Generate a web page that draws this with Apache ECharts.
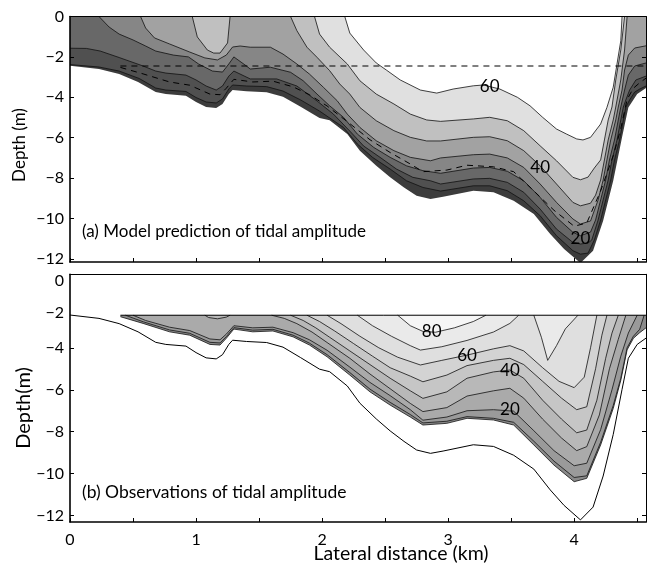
<!DOCTYPE html>
<html>
<head>
<meta charset="utf-8">
<script src="https://cdn.jsdelivr.net/npm/echarts@6/dist/echarts.min.js"></script>
<style>
html,body{margin:0;padding:0;background:#fff}
#chart{width:650px;height:563px}
</style>
</head>
<body>
<div id="chart"></div>
<script>
// Lateral extent of the section (km)
const xMax = 4.57;

// Bed profile: [lateral distance km, depth m]
const bedProfile = [[0,-2.44],[0.23,-2.60],[0.39,-2.85],[0.54,-3.24],[0.68,-3.74],[0.76,-3.84],[0.92,-3.92],[1.0,-4.23],[1.08,-4.48],[1.16,-4.53],[1.21,-4.33],[1.26,-3.84],[1.29,-3.64],[1.40,-3.70],[1.56,-3.75],[1.69,-3.97],[1.83,-4.47],[1.98,-5.02],[2.06,-5.14],[2.20,-5.82],[2.30,-6.64],[2.43,-7.39],[2.54,-7.96],[2.65,-8.46],[2.75,-8.87],[2.86,-9.03],[2.96,-8.92],[3.20,-8.62],[3.36,-8.70],[3.52,-9.12],[3.68,-9.78],[3.81,-10.77],[3.92,-11.51],[4.05,-12.2],[4.15,-11.59],[4.23,-10.11],[4.31,-8.13],[4.38,-5.98],[4.43,-4.50],[4.50,-3.84],[4.57,-3.54]];

// Model amplitude contours (cm), each a line from left to right
const modelLevels = [0, 10, 20, 30, 40, 50, 60];
const modelC1 = [[0,-2.38],[0.23,-2.50],[0.39,-2.70],[0.55,-3.07],[0.68,-3.54],[0.76,-3.64],[0.92,-3.71],[1.0,-4.01],[1.08,-4.23],[1.16,-4.28],[1.21,-4.08],[1.26,-3.59],[1.29,-3.39],[1.40,-3.44],[1.56,-3.47],[1.69,-3.69],[1.83,-4.13],[1.98,-4.68],[2.17,-5.49],[2.28,-6.31],[2.40,-6.97],[2.54,-7.55],[2.67,-8.13],[2.80,-8.46],[2.94,-8.64],[3.20,-8.38],[3.33,-8.38],[3.47,-8.62],[3.60,-9.12],[3.73,-9.86],[3.86,-10.85],[3.99,-11.59],[4.05,-11.76],[4.11,-11.71],[4.16,-11.06],[4.21,-10.07],[4.25,-9.08],[4.29,-8.09],[4.32,-7.10],[4.36,-6.11],[4.39,-5.12],[4.41,-4.48],[4.44,-4.13],[4.48,-3.74],[4.52,-3.59],[4.57,-3.44]];
const modelC2 = [[0,-1.57],[0.13,-1.58],[0.24,-1.71],[0.39,-2.03],[0.58,-2.45],[0.68,-2.70],[0.76,-2.80],[0.92,-2.90],[1.0,-3.14],[1.08,-3.44],[1.16,-3.64],[1.21,-3.44],[1.26,-2.95],[1.30,-2.70],[1.43,-3.09],[1.64,-3.09],[1.80,-3.44],[1.96,-4.18],[2.09,-4.83],[2.22,-5.67],[2.33,-6.41],[2.46,-6.97],[2.59,-7.55],[2.72,-7.96],[2.86,-8.13],[2.94,-8.29],[3.20,-8.04],[3.33,-8.01],[3.47,-8.21],[3.60,-8.70],[3.73,-9.53],[3.86,-10.52],[3.99,-11.18],[4.05,-11.26],[4.11,-11.21],[4.14,-11.06],[4.19,-10.07],[4.23,-9.08],[4.27,-8.09],[4.30,-7.10],[4.34,-6.11],[4.37,-5.12],[4.39,-4.48],[4.41,-4.13],[4.44,-3.64],[4.49,-3.14],[4.57,-2.95]];
const modelC3 = [[0.23,0],[0.31,-0.52],[0.39,-0.87],[0.50,-1.16],[0.60,-1.46],[0.68,-1.71],[0.82,-1.91],[0.94,-2.00],[1.02,-2.35],[1.13,-2.70],[1.21,-2.75],[1.26,-2.35],[1.30,-2.00],[1.40,-2.45],[1.43,-2.60],[1.59,-2.51],[1.75,-2.76],[1.85,-3.18],[1.96,-3.84],[2.06,-4.42],[2.17,-4.99],[2.28,-5.82],[2.41,-6.48],[2.54,-6.97],[2.67,-7.39],[2.80,-7.63],[2.94,-7.76],[3.20,-7.50],[3.33,-7.47],[3.47,-7.66],[3.60,-8.13],[3.73,-8.95],[3.86,-9.94],[3.99,-10.68],[4.05,-10.85],[4.13,-10.67],[4.17,-10.07],[4.21,-9.08],[4.25,-8.09],[4.28,-7.10],[4.32,-6.11],[4.35,-5.12],[4.37,-4.48],[4.40,-3.64],[4.43,-2.90],[4.48,-2.45],[4.57,-2.30]];
const modelC4 = [[0.56,0],[0.60,-0.57],[0.67,-1.06],[0.79,-1.36],[0.95,-1.76],[1.07,-2.05],[1.17,-2.15],[1.24,-1.91],[1.29,-1.51],[1.35,-1.46],[1.43,-1.52],[1.59,-1.52],[1.69,-1.86],[1.80,-2.35],[1.90,-2.85],[2.01,-3.50],[2.12,-4.17],[2.20,-4.83],[2.30,-5.49],[2.43,-6.15],[2.57,-6.64],[2.70,-6.97],[2.86,-7.14],[2.94,-7.00],[3.20,-6.84],[3.33,-6.81],[3.47,-7.00],[3.60,-7.47],[3.73,-8.29],[3.86,-9.20],[3.99,-10.02],[4.05,-10.27],[4.13,-10.12],[4.19,-9.08],[4.23,-8.09],[4.26,-7.10],[4.29,-6.11],[4.33,-5.12],[4.35,-4.48],[4.38,-3.64],[4.40,-2.65],[4.43,-1.91],[4.48,-1.56],[4.57,-1.45]];
const modelC5a = [[0.97,0],[1.01,-1.01],[1.09,-1.66],[1.14,-1.81],[1.19,-1.81],[1.25,-1.31],[1.27,0]];
const modelC5b = [[1.75,0],[1.80,-0.70],[1.88,-1.52],[1.96,-2.02],[2.06,-2.68],[2.14,-3.34],[2.22,-3.84],[2.30,-4.50],[2.43,-5.16],[2.57,-5.65],[2.70,-5.98],[2.83,-6.16],[2.94,-6.16],[3.20,-5.98],[3.33,-5.95],[3.47,-6.15],[3.60,-6.64],[3.73,-7.39],[3.86,-8.29],[3.99,-9.20],[4.05,-9.37],[4.13,-9.24],[4.17,-8.84],[4.21,-8.09],[4.24,-7.10],[4.27,-6.11],[4.31,-5.12],[4.33,-4.48],[4.37,-3.14],[4.40,-1.66],[4.42,0]];
const modelC6 = [[1.94,0],[1.98,-0.87],[2.06,-1.52],[2.20,-2.35],[2.30,-3.18],[2.43,-3.84],[2.57,-4.33],[2.70,-4.83],[2.83,-5.12],[2.94,-5.19],[3.20,-5.07],[3.33,-4.99],[3.47,-5.16],[3.60,-5.65],[3.73,-6.40],[3.86,-7.14],[3.99,-7.96],[4.05,-8.08],[4.11,-7.95],[4.16,-7.50],[4.21,-7.10],[4.24,-6.11],[4.27,-5.12],[4.30,-4.48],[4.33,-3.14],[4.37,-1.66],[4.40,0]];
const modelC7 = [[2.18,0],[2.22,-0.82],[2.33,-1.66],[2.43,-2.30],[2.51,-2.65],[2.62,-3.14],[2.78,-3.64],[2.91,-3.79],[3.04,-3.59],[3.20,-3.43],[3.28,-3.39],[3.41,-3.59],[3.55,-4.00],[3.65,-4.42],[3.75,-4.99],[3.86,-5.57],[3.94,-5.82],[4.02,-6.06],[4.07,-6.11],[4.13,-5.98],[4.21,-5.32],[4.26,-4.50],[4.31,-3.50],[4.34,-2.35],[4.37,-1.20],[4.38,0]];
const modelBandFill = ['#3c3c3c','#505050','#686868','#868686','#a2a2a2','#c0c0c0','#e0e0e0','#ffffff'];
const modelLabelText = ['60','40','20'];
const modelLabelX = [3.33, 3.73, 4.05];
const modelLabelY = [-3.45, -7.45, -11.0];

// Sampled (observed) region: flat top and lower limit
const obsTop = -2.45;
const obsBottom = [[0.40,-2.52],[0.58,-2.84],[0.79,-3.24],[0.95,-3.40],[1.11,-3.84],[1.19,-3.87],[1.24,-3.55],[1.30,-3.11],[1.45,-3.24],[1.61,-3.20],[1.77,-3.48],[1.90,-3.87],[2.04,-4.43],[2.22,-5.30],[2.38,-6.10],[2.54,-6.73],[2.70,-7.30],[2.80,-7.68],[2.99,-7.60],[3.15,-7.36],[3.36,-7.44],[3.52,-7.68],[3.68,-8.63],[3.84,-9.59],[4.00,-10.38],[4.10,-10.22],[4.21,-8.63],[4.31,-6.89],[4.37,-5.55],[4.42,-4.10],[4.47,-3.55],[4.52,-3.28],[4.57,-3.05]];

// Observed amplitude contours (cm)
const obsLevels = [10, 20, 30, 40, 50, 60, 70, 80];
const obsC10 = [[0.44,-2.45],[0.58,-2.76],[0.79,-3.15],[0.95,-3.31],[1.11,-3.74],[1.19,-3.77],[1.24,-3.47],[1.30,-3.04],[1.45,-3.16],[1.61,-3.12],[1.77,-3.40],[1.90,-3.78],[2.04,-4.33],[2.22,-5.18],[2.38,-5.97],[2.54,-6.60],[2.70,-7.18],[2.80,-7.58],[2.99,-7.50],[3.15,-7.28],[3.36,-7.36],[3.52,-7.55],[3.68,-8.45],[3.84,-9.40],[4.00,-10.18],[4.10,-10.10],[4.21,-8.50],[4.31,-6.75],[4.37,-5.45],[4.42,-4.00],[4.47,-3.45],[4.52,-3.12],[4.555,-2.45]];
const obsC20 = [[0.50,-2.45],[0.60,-2.70],[0.79,-3.02],[0.95,-3.18],[1.11,-3.58],[1.19,-3.62],[1.24,-3.35],[1.30,-2.95],[1.45,-3.05],[1.61,-3.02],[1.77,-3.28],[1.90,-3.62],[2.04,-4.12],[2.22,-4.92],[2.38,-5.65],[2.54,-6.28],[2.70,-6.95],[2.80,-7.45],[2.99,-7.30],[3.15,-7.00],[3.36,-6.95],[3.52,-7.02],[3.68,-7.95],[3.84,-8.90],[4.00,-9.62],[4.10,-9.50],[4.21,-7.90],[4.30,-6.00],[4.37,-4.40],[4.43,-3.30],[4.50,-2.45]];
const obsC30a = [[1.07,-2.45],[1.10,-2.56],[1.17,-2.62],[1.24,-2.54],[1.27,-2.45]];
const obsC30b = [[1.60,-2.45],[1.70,-2.60],[1.80,-2.85],[1.92,-3.25],[2.04,-3.75],[2.22,-4.50],[2.38,-5.25],[2.54,-5.95],[2.70,-6.65],[2.80,-7.04],[2.99,-6.85],[3.15,-6.30],[3.36,-6.05],[3.49,-5.93],[3.60,-6.40],[3.75,-7.40],[3.90,-8.30],[4.02,-8.90],[4.10,-8.71],[4.20,-7.20],[4.28,-5.00],[4.35,-3.60],[4.41,-2.45]];
const obsC40 = [[1.75,-2.45],[1.85,-2.70],[1.95,-3.05],[2.06,-3.50],[2.22,-4.15],[2.38,-4.80],[2.54,-5.45],[2.70,-6.05],[2.80,-6.41],[2.99,-6.10],[3.15,-5.45],[3.36,-5.15],[3.49,-5.06],[3.60,-5.45],[3.75,-6.50],[3.90,-7.40],[4.02,-8.05],[4.10,-7.92],[4.18,-6.50],[4.25,-4.50],[4.30,-3.30],[4.35,-2.45]];
const obsC50 = [[1.88,-2.45],[1.98,-2.75],[2.10,-3.20],[2.25,-3.80],[2.40,-4.40],[2.54,-4.95],[2.70,-5.35],[2.80,-5.62],[2.99,-5.30],[3.15,-4.85],[3.36,-4.60],[3.49,-4.50],[3.60,-4.80],[3.75,-5.60],[3.90,-6.40],[4.02,-6.95],[4.10,-6.81],[4.17,-5.00],[4.22,-3.40],[4.26,-2.45]];
const obsC60 = [[2.04,-2.45],[2.15,-2.85],[2.30,-3.45],[2.45,-4.00],[2.60,-4.45],[2.78,-4.82],[2.95,-4.60],[3.15,-4.35],[3.36,-4.05],[3.49,-3.90],[3.60,-4.15],[3.75,-4.95],[3.88,-5.60],[4.00,-5.90],[4.08,-5.40],[4.13,-4.00],[4.18,-2.45]];
const obsC70a = [[2.28,-2.45],[2.40,-2.95],[2.55,-3.45],[2.70,-3.90],[2.78,-4.11],[2.95,-3.95],[3.15,-3.65],[3.36,-3.25],[3.49,-2.84],[3.56,-2.45]];
const obsC70b = [[3.68,-2.45],[3.74,-3.50],[3.79,-4.60],[3.86,-3.90],[3.93,-3.10],[4.03,-2.45]];
const obsC80 = [[2.60,-2.45],[2.70,-2.95],[2.80,-3.22],[2.90,-3.26],[3.05,-3.05],[3.20,-2.75],[3.30,-2.45]];
const obsBandFill = ['#8a8a8a','#9a9a9a','#aaaaaa','#b8b8b8','#c6c6c6','#d3d3d3','#dfdfdf','#eaeaea','#f6f6f6'];
const obsLabelText = ['80','60','40','20'];
const obsLabelX = [2.87, 3.15, 3.49, 3.49];
const obsLabelY = [-3.24, -4.35, -5.06, -6.95];

const yTicksA = [-12,-10,-8,-6,-4,-2,0];
const yTicksB = [-12,-10,-8,-6,-4];
// the two upper labels of panel (b) sit where the printed axis puts them
const yLabelPosB = [-12,-10,-8,-6,-4,-2.33,-0.8];
const yLabelTextB = ['-12','-10','-8','-6','-4','-2','0'];
const xTicks = [0,0.5,1,1.5,2,2.5,3,3.5,4,4.5];
const xLabels = [0,1,2,3,4];

const FONT = 'Lato';
const minus = s => String(s).replace('-', '\u2212');

function closeToTop(line, top) {
  const pts = line.slice();
  if (pts[0][1] < top) pts.unshift([pts[0][0], top]);
  const last = pts[pts.length - 1];
  if (last[1] < top) pts.push([last[0], top]);
  return pts;
}

// Filled contour bands: each band is the area between the top of the section and its contour line
function bandSeries(xi, yi, bands, top) {
  return {
    type: 'custom', coordinateSystem: 'cartesian2d', xAxisIndex: xi, yAxisIndex: yi,
    clip: true, silent: true, z: 2,
    data: bands.map((b, i) => [b.line[0][0], b.line[0][1], i]),
    renderItem(params, api) {
      const b = bands[params.dataIndex];
      const poly = closeToTop(b.line, top).map(p => api.coord(p));
      const line = b.line.map(p => api.coord(p));
      const children = [{type: 'polygon', shape: {points: poly}, style: {fill: b.fill, stroke: null}}];
      if (b.stroke) children.push({type: 'polyline', shape: {points: line}, style: {fill: null, stroke: '#111', lineWidth: 0.8}});
      return {type: 'group', children};
    }
  };
}

function labelSeries(xi, yi, xs, ys, texts) {
  return {
    type: 'custom', coordinateSystem: 'cartesian2d', xAxisIndex: xi, yAxisIndex: yi, z: 6, silent: true,
    data: xs.map((x, i) => [x, ys[i]]),
    renderItem(params, api) {
      const p = api.coord([api.value(0), api.value(1)]);
      return {type: 'text', x: p[0], y: p[1], style: {text: texts[params.dataIndex], fill: '#000',
        font: '17px ' + FONT, align: 'center', verticalAlign: 'middle'}};
    }
  };
}

const modelBands = [
  {line: bedProfile, fill: modelBandFill[0], stroke: false},
  {line: modelC1, fill: modelBandFill[1], stroke: true},
  {line: modelC2, fill: modelBandFill[2], stroke: true},
  {line: modelC3, fill: modelBandFill[3], stroke: true},
  {line: modelC4, fill: modelBandFill[4], stroke: true},
  {line: modelC5a, fill: modelBandFill[5], stroke: true},
  {line: modelC5b, fill: modelBandFill[5], stroke: true},
  {line: modelC6, fill: modelBandFill[6], stroke: true},
  {line: modelC7, fill: modelBandFill[7], stroke: true}
];

const obsBands = [
  {line: obsBottom, fill: obsBandFill[0], stroke: true},
  {line: obsC10, fill: obsBandFill[1], stroke: true},
  {line: obsC20, fill: obsBandFill[2], stroke: true},
  {line: obsC30a, fill: obsBandFill[3], stroke: true},
  {line: obsC30b, fill: obsBandFill[3], stroke: true},
  {line: obsC40, fill: obsBandFill[4], stroke: true},
  {line: obsC50, fill: obsBandFill[5], stroke: true},
  {line: obsC60, fill: obsBandFill[6], stroke: true},
  {line: obsC70a, fill: obsBandFill[7], stroke: true},
  {line: obsC70b, fill: obsBandFill[7], stroke: true},
  {line: obsC80, fill: obsBandFill[8], stroke: true}
];

const chart = echarts.init(document.getElementById('chart'), null, {renderer: 'canvas'});

const gridA = {left: 70, top: 16.5, width: 576, height: 245.5};
const gridB = {left: 70, top: 274.3, width: 576, height: 247.7};

function xAxisPair(gi, showLabels) {
  return [
    {type: 'value', gridIndex: gi, position: 'bottom', min: 0, max: xMax, z: 10,
     axisLine: {show: true, onZero: false, lineStyle: {color: '#000', width: 1.6}},
     axisTick: {show: true, inside: true, length: 4, customValues: xTicks, lineStyle: {color: '#000', width: 1}},
     axisLabel: {show: showLabels, customValues: xLabels, color: '#000', fontFamily: FONT, fontSize: 16, margin: 10},
     splitLine: {show: false}},
    {type: 'value', gridIndex: gi, position: 'top', min: 0, max: xMax, z: 10,
     axisLine: {show: true, onZero: false, lineStyle: {color: '#000', width: 1}},
     axisTick: {show: false}, axisLabel: {show: false}, splitLine: {show: false}}
  ];
}

function yAxisPair(gi, min, max, ticks, labelPos, labelText) {
  return [
    {type: 'value', gridIndex: gi, position: 'left', min, max, z: 10,
     axisLine: {show: true, onZero: false, lineStyle: {color: '#000', width: 1.6}},
     axisTick: {show: true, inside: true, length: 4, customValues: ticks, lineStyle: {color: '#000', width: 1}},
     axisLabel: {show: true, customValues: labelPos, color: '#000', fontFamily: FONT, fontSize: 16, margin: 6,
       formatter: v => minus(labelText[labelPos.indexOf(v)] ?? v)},
     splitLine: {show: false}},
    {type: 'value', gridIndex: gi, position: 'right', min, max, z: 10,
     axisLine: {show: true, onZero: false, lineStyle: {color: '#000', width: 1}},
     axisTick: {show: true, inside: true, length: 4, customValues: ticks, lineStyle: {color: '#000', width: 1}},
     axisLabel: {show: false}, splitLine: {show: false}}
  ];
}

const dashed = {color: '#000', width: 1, type: [6, 5]};
const textStyle = size => ({fill: '#000', font: size + 'px ' + FONT, align: 'center', verticalAlign: 'middle'});

const option = {
  backgroundColor: '#fff',
  animation: false,
  grid: [gridA, gridB],
  xAxis: [...xAxisPair(0, false), ...xAxisPair(1, true)],
  yAxis: [
    ...yAxisPair(0, -12.15, 0, yTicksA, yTicksA, yTicksA.map(String)),
    ...yAxisPair(1, -12.3, -0.5, yTicksB, yLabelPosB, yLabelTextB)
  ],
  graphic: [
    {type: 'text', x: 20, y: 145, rotation: Math.PI / 2, z: 20, style: {text: 'Depth (m)', ...textStyle(17)}},
    {type: 'text', x: 24, y: 408, rotation: Math.PI / 2, z: 20, style: {text: 'Depth(m)', ...textStyle(20)}},
    {type: 'text', x: 401, y: 554, z: 20, style: {text: 'Lateral distance (km)', ...textStyle(19.5)}},
    {type: 'text', x: 82, y: 232, z: 20, style: {text: '(a) Model prediction of tidal amplitude', ...textStyle(17), align: 'left'}},
    {type: 'text', x: 82, y: 492, z: 20, style: {text: '(b) Observations of tidal amplitude', ...textStyle(17.5), align: 'left'}}
  ],
  series: [
    bandSeries(0, 0, modelBands, 0),
    {type: 'line', xAxisIndex: 0, yAxisIndex: 0, data: [[obsBottom[0][0], obsTop], [xMax, obsTop]],
     symbol: 'none', lineStyle: dashed, z: 5, silent: true},
    {type: 'line', xAxisIndex: 0, yAxisIndex: 0, data: obsBottom, symbol: 'none', lineStyle: dashed, z: 5, silent: true},
    labelSeries(0, 0, modelLabelX, modelLabelY, modelLabelText),
    bandSeries(2, 2, obsBands, obsTop),
    {type: 'line', xAxisIndex: 2, yAxisIndex: 2, data: [[obsBottom[0][0], obsTop], [xMax, obsTop]],
     symbol: 'none', lineStyle: {color: '#000', width: 1}, z: 5, silent: true},
    {type: 'line', xAxisIndex: 2, yAxisIndex: 2, data: bedProfile, symbol: 'none',
     lineStyle: {color: '#000', width: 1}, z: 5, silent: true, clip: true},
    labelSeries(2, 2, obsLabelX, obsLabelY, obsLabelText)
  ]
};
chart.setOption(option);
</script>
</body>
</html>
